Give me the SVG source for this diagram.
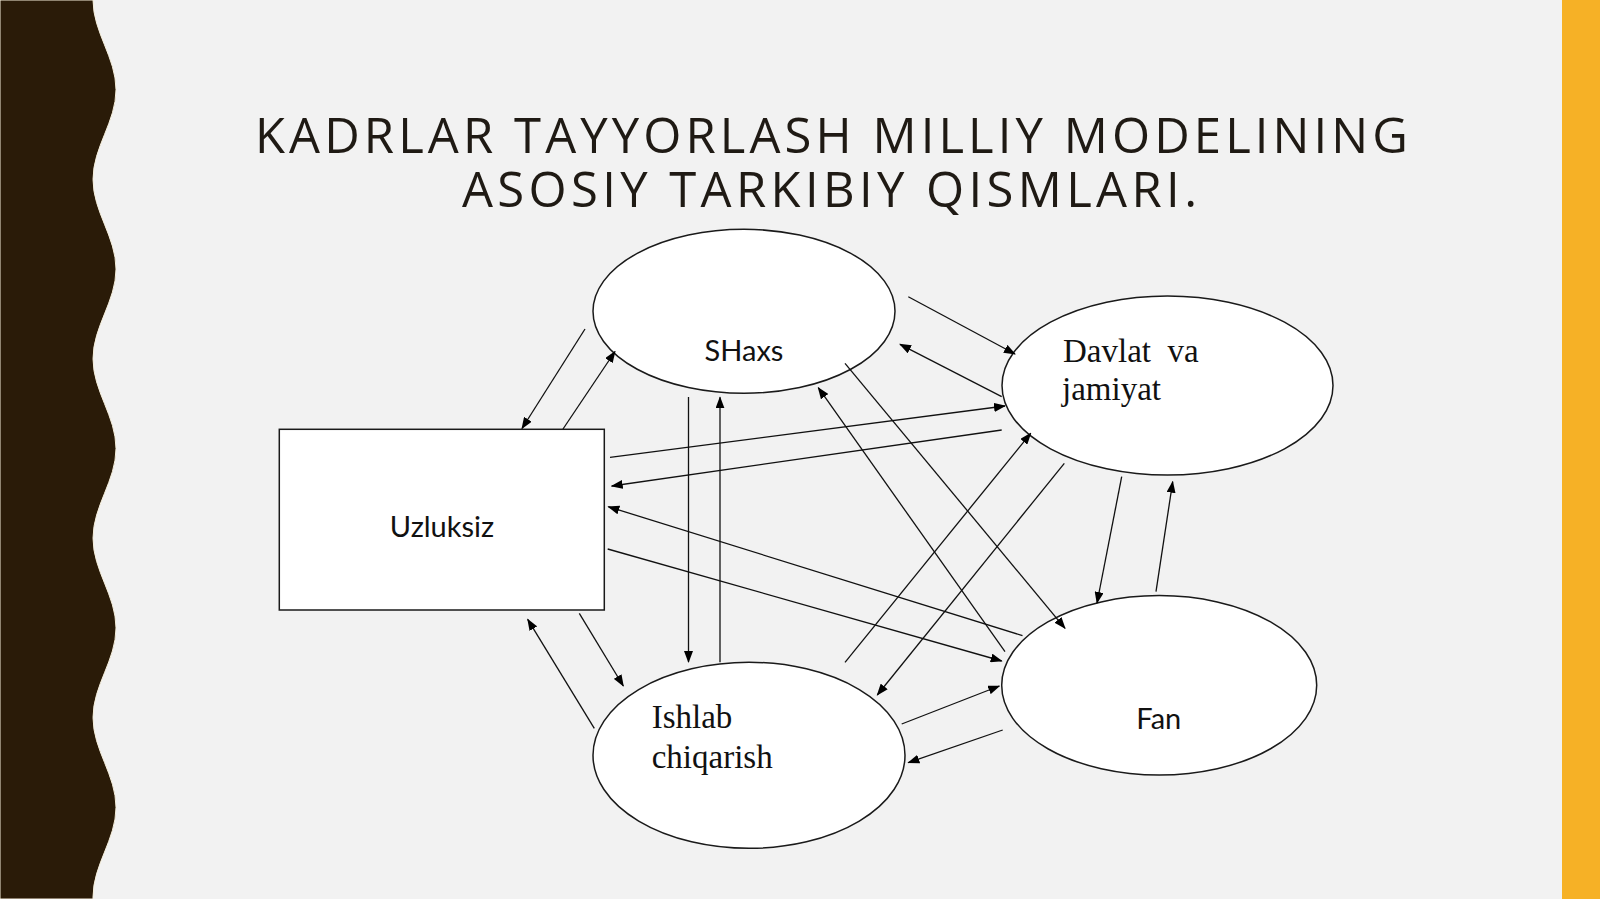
<svg xmlns="http://www.w3.org/2000/svg" width="1600" height="899" viewBox="0 0 1600 899">
  <defs>
    <marker id="arr" markerUnits="userSpaceOnUse" markerWidth="12" markerHeight="9" refX="11" refY="4.5" orient="auto">
      <path d="M0,0 L12,4.5 L0,9 Z" fill="#000"/>
    </marker>
    <style>
      .shape { fill: #ffffff; stroke: #1a1a1a; stroke-width: 1.5; }
      .conn line { stroke: #111; stroke-width: 1.3; marker-end: url(#arr); }
      .sans { font-family: Lato, "Liberation Sans", sans-serif; font-size: 29px; fill: #111; }
      .serif { font-family: "Liberation Serif", "DejaVu Serif", serif; font-size: 33px; fill: #111; }
      .title { font-family: "Open Sans", "Noto Sans", sans-serif; font-size: 49px; fill: #1f1a14; }
    </style>
  </defs>

  <rect x="0" y="0" width="1600" height="899" fill="#f2f2f2"/>

  <g id="decoration">
    <path d="M0,0 H93 C93,32.3 116,57.4 116,89.7 C116,122 93,147.1 93,179.4 C93,211.7 116,236.8 116,269.1 C116,301.4 93,326.5 93,358.8 C93,391.1 116,416.2 116,448.5 C116,480.8 93,505.9 93,538.2 C93,570.5 116,595.6 116,627.9 C116,660.2 93,685.3 93,717.6 C93,749.9 116,775 116,807.3 C116,839.6 93,864.7 93,897 L93,899 H0 Z" fill="#2a1b08" stroke="#f6efdc" stroke-width="1"/>
    <rect x="1562" y="0" width="38" height="899" fill="#f6b126"/>
  </g>

  <g id="title">
    <text class="title" x="255" y="153" textLength="1153" lengthAdjust="spacing">KADRLAR TAYYORLASH MILLIY MODELINING</text>
    <text class="title" x="462" y="207" textLength="735" lengthAdjust="spacing">ASOSIY TARKIBIY QISMLARI.</text>
  </g>

  <g id="node-shaxs">
    <ellipse class="shape" cx="744" cy="311.3" rx="151" ry="82"/>
    <text class="sans" x="744" y="360.7" text-anchor="middle">SHaxs</text>
  </g>

  <g id="node-davlat">
    <ellipse class="shape" cx="1167.5" cy="385.5" rx="165.5" ry="89.5"/>
    <text class="serif" x="1063" y="361.7" xml:space="preserve">Davlat  va</text>
    <text class="serif" x="1062" y="400">jamiyat</text>
  </g>

  <g id="node-uzluksiz">
    <rect class="shape" x="279.3" y="429.3" width="325" height="180.7"/>
    <text class="sans" x="442" y="536.7" text-anchor="middle">Uzluksiz</text>
  </g>

  <g id="node-ishlab">
    <ellipse class="shape" cx="749" cy="755.3" rx="156" ry="93"/>
    <text class="serif" x="651.7" y="728.3">Ishlab</text>
    <text class="serif" x="651.7" y="768.3">chiqarish</text>
  </g>

  <g id="node-fan">
    <ellipse class="shape" cx="1159.2" cy="685.3" rx="157.5" ry="89.7"/>
    <text class="sans" x="1158.8" y="729.3" text-anchor="middle">Fan</text>
  </g>

  <g id="connectors" class="conn">
    <line x1="585" y1="329" x2="522" y2="428.5"/>
    <line x1="563" y1="429" x2="615" y2="351.5"/>
    <line x1="610" y1="457.3" x2="1005" y2="406"/>
    <line x1="1001.7" y1="430" x2="611.7" y2="486"/>
    <line x1="1022.5" y1="635.7" x2="608.3" y2="506.7"/>
    <line x1="607.7" y1="549" x2="1001.7" y2="661"/>
    <line x1="688.5" y1="397" x2="688.5" y2="662"/>
    <line x1="720" y1="662.3" x2="720" y2="397.3"/>
    <line x1="579.3" y1="613.3" x2="623.3" y2="686"/>
    <line x1="594.3" y1="728.3" x2="527.7" y2="619.3"/>
    <line x1="901.7" y1="724" x2="999.3" y2="686"/>
    <line x1="1002.7" y1="730" x2="908.3" y2="762.7"/>
    <line x1="1064.3" y1="463.3" x2="877.3" y2="695"/>
    <line x1="845" y1="662.3" x2="1030.7" y2="433.3"/>
    <line x1="845" y1="363.3" x2="1065" y2="628.3"/>
    <line x1="1005" y1="651.7" x2="818.3" y2="387.7"/>
    <line x1="908.3" y1="296.7" x2="1015" y2="354"/>
    <line x1="1001.7" y1="396.7" x2="900" y2="344.3"/>
    <line x1="1121.7" y1="476.7" x2="1097" y2="603"/>
    <line x1="1156" y1="591.7" x2="1172.7" y2="481.7"/>
  </g>
</svg>
